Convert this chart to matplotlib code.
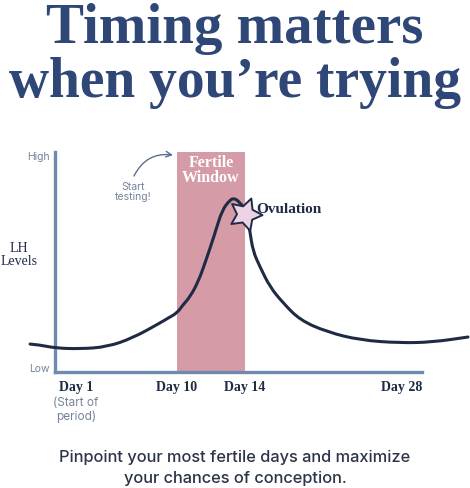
import numpy as np
import matplotlib
matplotlib.use("Agg")
import matplotlib.pyplot as plt
from matplotlib.scale import FuncScale
from matplotlib.path import Path
from matplotlib.patches import PathPatch
from matplotlib.transforms import ScaledTranslation

# LH curve (cycle day, relative LH level 0=Low 1=High)
days = [-0.84, -0.11, 1.0, 2.84, 4.84, 6.75, 8.75, 9.34, 10.0, 10.35, 10.76,
        11.24, 11.65, 12.24, 12.65, 13.12, 13.35, 13.65, 14.10, 14.40, 14.63,
        15.19, 15.98, 17.01, 18.35, 20.49, 23.10, 26.26, 28.87, 31.64]
lh = [0.127, 0.123, 0.109, 0.105, 0.114, 0.155, 0.223, 0.245, 0.268, 0.305, 0.341,
      0.409, 0.495, 0.632, 0.736, 0.782, 0.790, 0.775, 0.730, 0.636, 0.550,
      0.477, 0.386, 0.314, 0.236, 0.182, 0.145, 0.132, 0.136, 0.159]

fertile_window = (10, 14)
ovulation_day = 14
ovulation_lh = 0.72
tick_days = [1, 10, 14, 28]
tick_labels = ["Day 1", "Day 10", "Day 14", "Day 28"]

TITLE = "#2e4776"
NAVY = "#1f2a45"
AXIS = "#6f8aae"
GREY = "#76839a"
PINK = "#d59ba6"
W, H = 470, 488

# the drawing is not to scale: piecewise linear day axis
anchor_day = np.array([-10, 1, 10, 14, 28, 45])
anchor_px = np.array([-149.1, 0, 122, 190, 367, 581.9])


def fwd(d):
    return np.interp(d, anchor_day, anchor_px)


def inv(p):
    return np.interp(p, anchor_px, anchor_day)


def fx(px):
    return px / W


def fy(py):
    return 1 - py / H


def smooth_path(xs, ys):
    # quadratic bezier through the midpoints, read points as controls
    pts = np.column_stack([xs, ys])
    verts = [pts[0]]
    codes = [Path.MOVETO]
    for i in range(1, len(pts) - 1):
        verts += [pts[i], (pts[i] + pts[i + 1]) / 2]
        codes += [Path.CURVE3, Path.CURVE3]
    verts.append(pts[-1])
    codes.append(Path.LINETO)
    return Path(verts, codes)


fig = plt.figure(figsize=(4.7, 4.88), dpi=100)
ax = fig.add_axes([fx(55), fy(372), fx(422) - fx(55), fy(152) - fy(372)])
ax.set_xscale(FuncScale(ax, (fwd, inv)))
ax.set_xlim(1, 28)
ax.set_ylim(0, 1)

ax.axvspan(*fertile_window, ymin=0, ymax=1.01, color=PINK, lw=0, zorder=1)
curve = PathPatch(smooth_path(days, lh), fill=False, edgecolor=NAVY, lw=2.2,
                  capstyle="round", joinstyle="round", clip_on=False, zorder=3)
ax.add_patch(curve)
ax.scatter([ovulation_day], [ovulation_lh], marker=(5, 1, -20), s=600,
           facecolor="#ecd3e4", edgecolor=NAVY, linewidths=1.4,
           clip_on=False, zorder=4)

for s in ["top", "right"]:
    ax.spines[s].set_visible(False)
for s in ["left", "bottom"]:
    ax.spines[s].set_color(AXIS)
    ax.spines[s].set_linewidth(2.4)
ax.set_xticks([])
ax.set_yticks([])

serif = "Liberation Serif"
sans = "Inter"

# title
fig.text(0.5, fy(43), "Timing matters", ha="center", va="baseline",
         fontsize=41, fontweight="bold", family=serif, color=TITLE)
fig.text(0.5, fy(97), "when you\u2019re trying", ha="center", va="baseline",
         fontsize=40, fontweight="bold", family=serif, color=TITLE)

# axis annotations
fig.text(fx(50), fy(157), "High", ha="right", va="center", fontsize=7.5,
         family=sans, color=GREY)
fig.text(fx(50), fy(369), "Low", ha="right", va="center", fontsize=7.5,
         family=sans, color=GREY)
fig.text(fx(19), fy(255), "LH\nLevels", ha="center", va="center", fontsize=10,
         family=serif, color=NAVY, linespacing=1.0)

ax.text(np.mean(fertile_window), 0.915, "Fertile\nWindow", ha="center",
        va="center", fontsize=11.5, fontweight="bold", family=serif,
        color="white", linespacing=0.9, zorder=5)
ax.text(ovulation_day, ovulation_lh, "Ovulation", ha="left", va="center",
        fontsize=11, fontweight="bold", family=serif, color=NAVY,
        transform=ax.transData + ScaledTranslation(8 / 72, 3 / 72, fig.dpi_scale_trans),
        zorder=5)

fig.text(fx(133), fy(192), "Start\ntesting!", ha="center", va="center",
         fontsize=7.5, family=sans, color=GREY, linespacing=1.1)
ax.annotate("", xy=(fx(173), fy(155)), xytext=(fx(134), fy(176)),
            xycoords="figure fraction", textcoords="figure fraction",
            arrowprops=dict(arrowstyle="->", color="#5a6f8f", lw=1.0,
                            connectionstyle="arc3,rad=-0.35",
                            shrinkA=0, shrinkB=0))

# day labels
offsets = {1: ("center", 21), 10: ("center", 0), 14: ("center", 0), 28: ("right", 0)}
for d, lab in zip(tick_days, tick_labels):
    ha, off = offsets[d]
    ax.annotate(lab, xy=(d, 0), xycoords=("data", "axes fraction"),
                xytext=(off * 0.72, -16 * 0.72), textcoords="offset points",
                ha=ha, va="center", fontsize=10, fontweight="bold",
                family=serif, color=NAVY, annotation_clip=False)
fig.text(fx(76), fy(410), "(Start of\nperiod)", ha="center", va="center",
         fontsize=8.5, family=sans, color=GREY, linespacing=1.15)

# footer
fig.text(0.5, fy(468), "Pinpoint your most fertile days and maximize\nyour chances of conception.",
         ha="center", va="center", fontsize=11.8, family=sans, fontweight="medium",
         color="#2b3448", linespacing=1.5)

fig.savefig("out.png", dpi=100, facecolor="white")
